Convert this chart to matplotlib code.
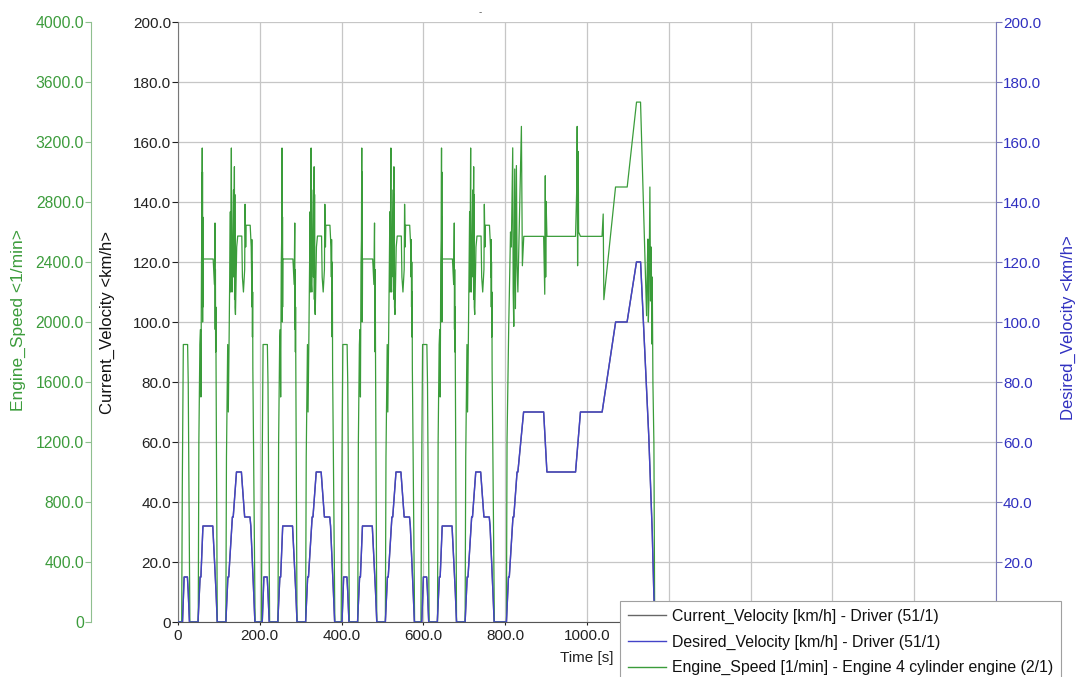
import numpy as np
import matplotlib
matplotlib.use("Agg")
import matplotlib.pyplot as plt
from matplotlib.ticker import FuncFormatter
from matplotlib.lines import Line2D

plt.rcParams['font.family'] = ['Liberation Sans', 'DejaVu Sans']

# one urban (ECE-15) cycle, time relative to cycle start [s] -> speed [km/h]
ece_time = [0, 11, 15, 23, 25, 28, 49, 54, 56, 61, 85, 93, 96, 117, 122, 124,
            133, 135, 143, 155, 163, 176, 178, 185, 188, 195]
ece_speed = [0, 0, 15, 15, 10, 0, 0, 15, 15, 32, 32, 10, 0, 0, 15, 15,
             35, 35, 50, 50, 35, 35, 32, 10, 0, 0]
ece_starts = [0, 195, 390, 585]

# extra-urban part, absolute time [s] -> speed [km/h]
eudc_time = [780, 803, 808, 810, 819, 821, 829, 831, 845, 894, 902, 972, 984,
             1037, 1070, 1098, 1121, 1131, 1151, 1159.5, 1163.5, 1166, 1180]
eudc_speed = [0, 0, 15, 15, 35, 35, 50, 50, 70, 70, 50, 50, 70,
              70, 100, 100, 120, 120, 62, 30, 9, 0, 0]

# engine speed during one urban cycle [s] -> [1/min]
ece_rpm_time = [0, 9, 10.5, 13, 23.5, 25, 29,
                49.5, 51, 53.5, 55, 56, 57.5, 58.5, 59.3, 59.6, 59.9, 60.2, 60.5, 60.8, 61.2,
                86, 89, 90.5, 91, 91.5, 92, 92.5, 93, 96,
                117, 118.5, 121.5, 123, 125, 128, 128.8, 130.5, 131.2, 132.2, 134, 135.5,
                136.3, 137.9, 138.4, 138.9, 139.4, 140.5, 141.5, 143.5, 146, 156, 157.5,
                160, 163, 164, 165.5, 166.5, 176.5, 179, 180, 180.5, 181, 181.5, 182,
                182.5, 183, 188.5, 195]
ece_rpm = [0, 0, 900, 1850, 1850, 1600, 0,
           0, 1200, 1850, 1950, 1500, 2400, 2550, 3160, 2100, 3000, 2000, 2700, 2100, 2420,
           2420, 2250, 2660, 1950, 2350, 1800, 2100, 1730, 0,
           0, 1100, 1850, 1400, 1900, 2735, 2200, 3160, 2250, 2200, 2600, 2880,
           2300, 3035, 2150, 2850, 2100, 2050, 2200, 2500, 2573, 2573, 2300,
           2200, 2350, 2785, 2500, 2645, 2645, 2500, 2300, 2550, 2100, 2400, 1900,
           2200, 1690, 0, 0]

# engine speed during the extra-urban part [s] -> [1/min]
eudc_rpm_time = [780, 803, 804.5, 808.6, 811, 813, 815, 818.4, 819.5, 821, 823.3, 825,
                 827.4, 829, 831, 833, 836, 839.6, 842, 845.4, 894, 896.7, 898, 899,
                 900, 902, 972, 975, 976, 977, 978.5, 979.5, 984, 1036.8, 1039.6,
                 1041.2, 1069.8, 1098.3, 1121.1, 1130.9, 1145.7, 1147, 1148.9, 1150,
                 1151.4, 1153.8, 1155.4, 1157, 1158.7, 1159.5, 1161.2, 1163.6, 1165.5, 1180]
eudc_rpm = [0, 0, 1209, 1971, 2300, 2600, 2500, 3161, 2200, 1971, 3020, 2089,
            3043, 2375, 2200, 2450, 2800, 3304, 2375, 2571, 2571, 2185, 2975, 2300,
            2804, 2571, 2571, 2900, 3304, 2375, 3137, 2600, 2571, 2571, 2720,
            2149, 2900, 2900, 3466, 3466, 2042, 2300, 2553, 2000,
            2150, 2900, 2140, 2500, 1853, 2300, 1589, 1187, 0, 0]

legend_labels = ['Current_Velocity [km/h] - Driver (51/1)',
                 'Desired_Velocity [km/h] - Driver (51/1)',
                 'Engine_Speed [1/min] - Engine 4 cylinder engine (2/1)']

# build the full time series from the four urban cycles + extra-urban part
vel_t = np.concatenate([np.array(ece_time) + s for s in ece_starts] + [eudc_time])
vel = np.concatenate([ece_speed] * len(ece_starts) + [eudc_speed])
rpm_t = np.concatenate([np.array(ece_rpm_time) + s for s in ece_starts] + [eudc_rpm_time])
rpm = np.concatenate([ece_rpm] * len(ece_starts) + [eudc_rpm])

c_gray = '#666666'
c_blue = '#4343c8'
c_green = '#3a9c3a'

def fmt(v, pos):
    return '0' if v == 0 else '%.1f' % v

def fmt_time(v, pos):
    # labels right of 1000 s sit under the legend box
    if v > 1000:
        return ''
    return fmt(v, pos)

W, H = 1078, 677
fig = plt.figure(figsize=(W / 100, H / 100), dpi=100)
ax = fig.add_axes([178 / W, 55 / H, 818 / W, 600 / H])

ax.set_xlim(0, 2000)
ax.set_ylim(0, 200)
ax.set_xticks(np.arange(0, 2001, 200))
ax.set_yticks(np.arange(0, 201, 20))
ax.xaxis.set_major_formatter(FuncFormatter(fmt_time))
ax.yaxis.set_major_formatter(FuncFormatter(fmt))
ax.grid(True, color='#c6c6c6', lw=0.9)
ax.set_axisbelow(True)
ax.tick_params(axis='y', labelsize=11, length=4, pad=1, colors='#222222')
ax.tick_params(axis='x', labelsize=11, length=2, pad=3, colors='#222222')
ax.spines['top'].set_visible(False)
ax.spines['right'].set_visible(False)
ax.spines['left'].set_color('#777777')
ax.spines['bottom'].set_color('#555555')
ax.set_xlabel('Time [s]', fontsize=11, labelpad=6, color='#222222')
ax.set_ylabel('Current_Velocity <km/h>', fontsize=12, color='#111111')
ax.yaxis.set_label_coords(-0.0775, 0.5)
ax.plot(vel_t, vel, color=c_gray, lw=1)

# engine speed axis, offset to the left
axg = ax.twinx()
axg.spines['left'].set_position(('axes', -0.1064))
axg.spines['left'].set_visible(True)
axg.spines['left'].set_color('#8fbf8f')
axg.spines['right'].set_visible(False)
axg.spines['top'].set_visible(False)
axg.spines['bottom'].set_visible(False)
axg.yaxis.set_ticks_position('left')
axg.yaxis.set_label_position('left')
axg.set_ylim(0, 4000)
axg.set_yticks(np.arange(0, 4001, 400))
axg.yaxis.set_major_formatter(FuncFormatter(fmt))
axg.tick_params(axis='y', labelsize=11.3, length=4, pad=1, colors='#3c9c3c')
axg.tick_params(axis='y', color='#8fbf8f')
axg.set_ylabel('Engine_Speed <1/min>', fontsize=12.5, color='#3c9c3c')
axg.yaxis.set_label_coords(-0.1858, 0.503)
axg.plot(rpm_t, rpm, color=c_green, lw=0.9)

# desired velocity axis on the right
axb = ax.twinx()
axb.set_ylim(0, 200)
axb.set_yticks(np.arange(20, 201, 20))
axb.yaxis.set_major_formatter(FuncFormatter(fmt))
for s in ['left', 'top', 'bottom']:
    axb.spines[s].set_visible(False)
axb.spines['right'].set_color('#7a7ab8')
axb.tick_params(axis='y', labelsize=11, length=4, pad=1, colors='#3030c0')
axb.tick_params(axis='y', color='#7a7ab8')
axb.set_ylabel('Desired_Velocity <km/h>', fontsize=12, color='#3030c0')
axb.yaxis.set_label_coords(1.0795, 0.49)
axb.plot(vel_t, vel, color=c_blue, lw=1)

fig.text(480 / W, 1 - 12 / H, '-', fontsize=7, color='#555555', ha='center', va='center')

handles = [Line2D([], [], color=c_gray, lw=1),
           Line2D([], [], color=c_blue, lw=1),
           Line2D([], [], color=c_green, lw=1)]
leg = fig.legend(handles, legend_labels, loc='upper left',
                 bbox_to_anchor=(620 / W, 1 - 601 / H), bbox_transform=fig.transFigure,
                 borderaxespad=0, frameon=True, fancybox=False, edgecolor='#a0a0a0',
                 framealpha=1, fontsize=11.4, handlelength=2.4, handletextpad=0.4,
                 labelspacing=0.66, borderpad=0.5)
leg.get_frame().set_linewidth(0.8)
for t in leg.get_texts():
    t.set_color('#111111')

fig.savefig('out.png', dpi=100)
